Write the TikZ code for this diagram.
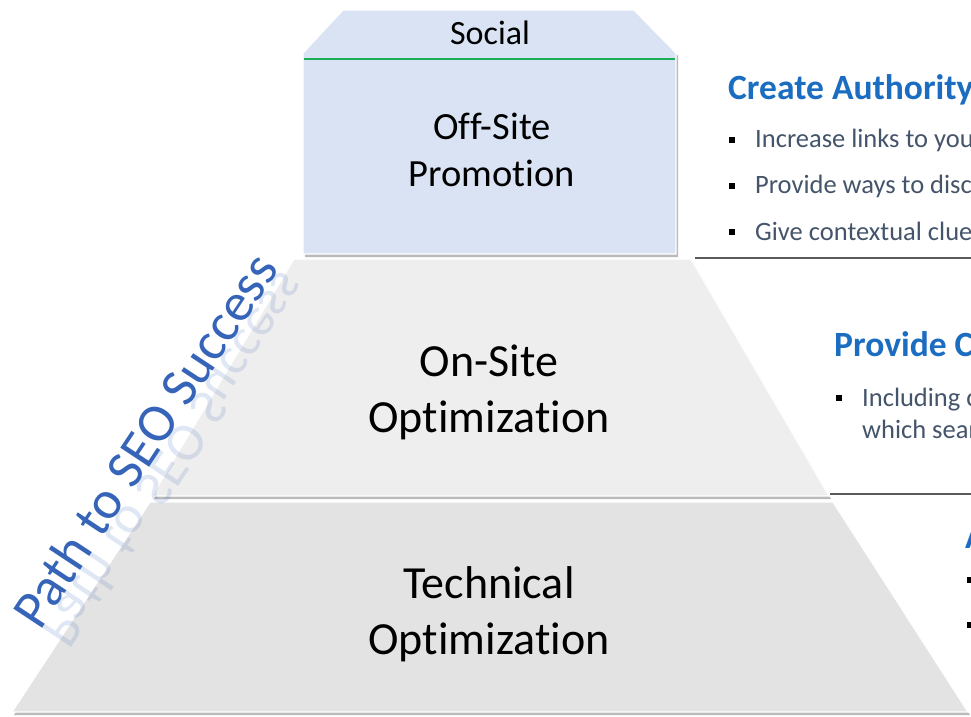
\documentclass[tikz,border=0pt]{standalone}
\usepackage{fontspec}
\setmainfont{Carlito}[Ligatures={NoCommon}]
\usetikzlibrary{shadows}
\definecolor{headblue}{HTML}{1A6DC0}
\definecolor{bodytext}{HTML}{44546A}
\definecolor{tierblue}{HTML}{DAE3F3}
\definecolor{tiermid}{HTML}{EEEEEE}
\definecolor{tierlow}{HTML}{E3E3E3}
\definecolor{socialgreen}{HTML}{1AAF54}
\definecolor{pathblue}{HTML}{3564B8}
\definecolor{rulegray}{HTML}{5A5A5A}
% square list bullet followed by the gap before the item text
\newcommand{\blt}{\textcolor{black}{\raisebox{5bp}{\rule{6bp}{6bp}}}\hspace{20bp}}
\tikzset{
  tier/.style={draw=white, line width=1.2bp,
    drop shadow={shadow xshift=2bp, shadow yshift=-3bp, opacity=0.45, fill=black!60}},
  tierlabel/.style={font=\fontsize{46bp}{56bp}\selectfont, align=center, text=black, inner sep=0},
  toplabel/.style={font=\fontsize{38.5bp}{47bp}\selectfont, align=center, text=black, inner sep=0},
  head/.style={anchor=base west, font=\fontsize{35.5bp}{40bp}\selectfont\bfseries, text=headblue, inner sep=0},
  item/.style={anchor=base west, font=\fontsize{26.5bp}{30bp}\selectfont, text=bodytext, inner sep=0},
  pathtext/.style={anchor=base west, rotate=56.5, font=\fontsize{54bp}{60bp}\selectfont, text=pathblue, inner sep=0},
  divider/.style={draw=rulegray, line width=1.6bp}
}
\begin{document}
\begin{tikzpicture}[x=1bp, y=-1bp]
  \useasboundingbox (0,0) rectangle (971,717);
  \fill[white] (0,0) rectangle (971,717);
  \clip (0,0) rectangle (971,717);

  % pyramid tiers, bottom to top
  \path[tier, fill=tierlow] (150,502) -- (833,502) -- (968,712) -- (12,712) -- cycle;
  \path[tier, fill=tiermid] (294,259) -- (691,259) -- (829,496) -- (152,496) -- cycle;
  \path[tier, fill=tierblue] (303,53) -- (343,10) -- (634,10) -- (676,53) -- (676,254) -- (303,254) -- cycle;
  \draw[socialgreen, line width=2.5bp] (304,59) -- (675,59);

  % tier labels
  \node[font=\fontsize{34bp}{38bp}\selectfont, inner sep=0, anchor=base] (social) at (490,45) {Social};
  \node[toplabel] (offsite) at (492,150) {Off-Site\\Promotion};
  \node[tierlabel] (onsite) at (489,392) {On-Site\\Optimization};
  \node[tierlabel] (technical) at (489,614) {Technical\\Optimization};

  % slanted title with its faded reflection
  \node[pathtext] (pathtitle) at (40,632) {Path to SEO Success};
  \node[pathtext, yscale=-1, opacity=0.15] (pathmirror) at (40,632) {Path to SEO Success};

  % dividers between the side notes
  \coordinate (divAstart) at (695,258);
  \coordinate (divAend) at (971,258);
  \coordinate (divBstart) at (830,494);
  \coordinate (divBend) at (971,494);
  \draw[divider] (divAstart) -- (divAend);
  \draw[divider] (divBstart) -- (divBend);

  % side notes for the top tier
  \node[head] (authority) at (728,100) {Create Authority};
  \node[item] (itemA1) at (729,148) {\blt Increase links to you};
  \node[item] (itemA2) at (729,194) {\blt Provide ways to disc};
  \node[item] (itemA3) at (729,240) {\blt Give contextual clue};

  % side notes for the middle tier
  \node[head] (content) at (834,356) {Provide C};
  \node[item] (itemB1) at (836,406) {\blt Including c};
  \node[item] (itemB2) at (862,438) {which sear};

  % side notes for the bottom tier
  \node[head] (access) at (965,548) {A};
  \node[item] (itemC1) at (967,588) {\blt};
  \node[item] (itemC2) at (967,633) {\blt};
\end{tikzpicture}
\end{document}
